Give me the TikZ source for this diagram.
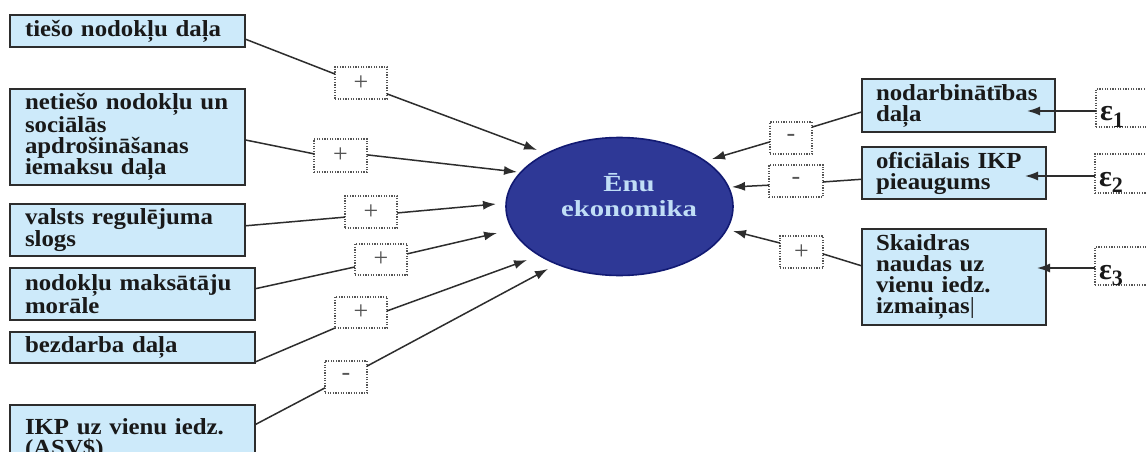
\documentclass[tikz,border=0pt]{standalone}
\usepackage{fontspec}
\setmainfont{Liberation Serif}[FakeStretch=1.08]
\newfontfamily\ellfont{Liberation Serif}[FakeStretch=1.25]
\newfontfamily\plainfont{Liberation Serif}
\usetikzlibrary{arrows.meta,calc,shapes.geometric}
\hyphenpenalty=10000
\exhyphenpenalty=10000
\definecolor{boxfill}{RGB}{205,234,250}
\definecolor{boxline}{RGB}{45,45,45}
\definecolor{ellfill}{RGB}{46,56,150}
\definecolor{elldraw}{RGB}{18,26,115}
\definecolor{elltext}{RGB}{192,222,246}
\definecolor{signcol}{RGB}{85,85,85}
\definecolor{conn}{RGB}{45,45,45}
\tikzset{
  factor/.style={draw=boxline, line width=1.4pt, fill=boxfill, anchor=north west,
    inner xsep=15pt, inner ysep=0pt, outer sep=0pt, align=left, text=black!90,
    font=\fontsize{23}{21}\selectfont\bfseries},
  signbox/.style={draw=signcol, dash pattern=on 1.2pt off 1.4pt, line width=1.1pt,
    fill=white, anchor=north west, inner sep=0pt, outer sep=0pt, minimum height=32pt,
    text=signcol, font=\plainfont\fontsize{26}{26}\selectfont},
  epsbox/.style={draw=signcol, dash pattern=on 1.2pt off 1.4pt, line width=1.1pt,
    fill=white, anchor=north west, inner xsep=4pt, inner ysep=0pt, outer sep=0pt,
    minimum width=60pt, text width=52pt, align=left, text height=32pt, text depth=6pt,
    font=\plainfont\bfseries\fontsize{30}{30}\selectfont, text=black!90},
  link/.style={draw=conn, line width=1.5pt},
  arrowlink/.style={link, -{Latex[length=13pt,width=9pt]}},
}
\newcommand{\epsl}[1]{ε\raisebox{-6pt}{\fontsize{22}{22}\selectfont #1}}
\begin{document}
\begin{tikzpicture}[x=1pt,y=-1pt]
\useasboundingbox (0,0) rectangle (1146,452);
\fill[white] (0,0) rectangle (1146,452);

% left factor boxes
\node[factor, text width=205pt, minimum height=32pt] (B1) at (10,15) {tiešo nodokļu daļa};
\node[factor, text width=205pt, minimum height=96pt] (B2) at (10,89) {netiešo nodokļu un\\sociālās\\apdrošināšanas\\iemaksu daļa};
\node[factor, text width=205pt, minimum height=52pt] (B3) at (10,204) {valsts regulējuma\\slogs};
\node[factor, text width=215pt, minimum height=52pt] (B4) at (10,268) {nodokļu maksātāju\\morāle};
\node[factor, text width=215pt, minimum height=31pt] (B5) at (10,332) {bezdarba daļa};
\node[factor, text width=215pt, minimum height=68pt] (B6) at (10,405) {IKP uz vienu iedz.\\(ASV\$)};

% right factor boxes
\node[factor, inner xsep=14pt, text width=165pt, minimum height=53pt] (R1) at (862,79) {nodarbinātības\\daļa};
\node[factor, inner xsep=14pt, text width=156pt, minimum height=52pt] (R2) at (862,147) {oficiālais IKP\\pieaugums};
\node[factor, inner xsep=14pt, text width=156pt, minimum height=96pt] (R3) at (862,229) {Skaidras\\naudas uz\\vienu iedz.\\izmaiņas{\mdseries|}};

% central ellipse
\node[ellipse, draw=elldraw, line width=1.6pt, fill=ellfill, minimum width=227pt,
  minimum height=138pt, inner sep=0pt] (E) at (619.5,206.5) {};
\node[align=center, text=elltext, font=\ellfont\bfseries\fontsize{23}{25}\selectfont,
  inner sep=0pt] (Et) at (629,195) {Ēnu\\ekonomika};

% sign boxes
\node[signbox, minimum width=52pt] (P1) at (335,67) {+};
\node[signbox, minimum width=53pt, minimum height=33pt] (P2) at (314,139) {+};
\node[signbox, minimum width=52pt] (P3) at (345,196) {+};
\node[signbox, minimum width=52pt, minimum height=31pt] (P4) at (355,244) {+};
\node[signbox, minimum width=52pt, minimum height=31pt] (P5) at (335,297) {+};
\node[signbox, minimum width=42pt] (P6) at (325,361) {-};
\node[signbox, minimum width=42pt] (M1) at (770,122) {-};
\node[signbox, minimum width=54pt] (M2) at (769,165) {-};
\node[signbox, minimum width=43pt] (P7) at (780,236) {+};

% epsilon boxes
\node[epsbox, minimum height=38pt] (E1) at (1096,89) {\epsl{1}};
\node[epsbox, minimum height=39pt] (E2) at (1095,154) {\epsl{2}};
\node[epsbox, minimum height=38pt] (E3) at (1095,247) {\epsl{3}};

% arrow tip points
\coordinate (t1) at (537,150);
\coordinate (t2) at (517,172);
\coordinate (t3) at (496,204);
\coordinate (t4) at (497,233);
\coordinate (t5) at (527,260);
\coordinate (t6) at (548,269);
\coordinate (t7) at (712,159);
\coordinate (t8) at (732,187);
\coordinate (t9) at (733,231);
\coordinate (e1) at (1027,111);
\coordinate (e2) at (1025,176);
\coordinate (e3) at (1037,268);

% left connectors
\draw[link] ($(B1.north east)!0.75!(B1.south east)$) -- ($(P1.north west)!0.22!(P1.south west)$);
\draw[arrowlink] ($(P1.north east)!0.84!(P1.south east)$) -- (t1);
\draw[link] ($(B2.north east)!0.53!(B2.south east)$) -- ($(P2.north west)!0.45!(P2.south west)$);
\draw[arrowlink] ($(P2.north east)!0.48!(P2.south east)$) -- (t2);
\draw[link] ($(B3.north east)!0.42!(B3.south east)$) -- ($(P3.north west)!0.66!(P3.south west)$);
\draw[arrowlink] ($(P3.north east)!0.53!(P3.south east)$) -- (t3);
\draw[link] ($(B4.north east)!0.40!(B4.south east)$) -- ($(P4.north west)!0.74!(P4.south west)$);
\draw[arrowlink] ($(P4.north east)!0.32!(P4.south east)$) -- (t4);
\draw[link] ($(B5.north east)!0.97!(B5.south east)$) -- (P5.south west);
\draw[arrowlink] ($(P5.north east)!0.45!(P5.south east)$) -- (t5);
\draw[link] ($(B6.north east)!0.29!(B6.south east)$) -- ($(P6.north west)!0.84!(P6.south west)$);
\draw[arrowlink] ($(P6.north east)!0.16!(P6.south east)$) -- (t6);

% right connectors
\draw[link] ($(R1.north west)!0.62!(R1.south west)$) -- ($(M1.north east)!0.16!(M1.south east)$);
\draw[arrowlink] ($(M1.north west)!0.62!(M1.south west)$) -- (t7);
\draw[link] ($(R2.north west)!0.62!(R2.south west)$) -- ($(M2.north east)!0.53!(M2.south east)$);
\draw[arrowlink] ($(M2.north west)!0.63!(M2.south west)$) -- (t8);
\draw[link] ($(R3.north west)!0.385!(R3.south west)$) -- ($(P7.north east)!0.56!(P7.south east)$);
\draw[arrowlink] ($(P7.north west)!0.22!(P7.south west)$) -- (t9);

% epsilon connectors
\draw[arrowlink] (E1.west |- e1) -- (e1);
\draw[arrowlink] (E2.west |- e2) -- (e2);
\draw[arrowlink] (E3.west |- e3) -- (e3);
\end{tikzpicture}
\end{document}
